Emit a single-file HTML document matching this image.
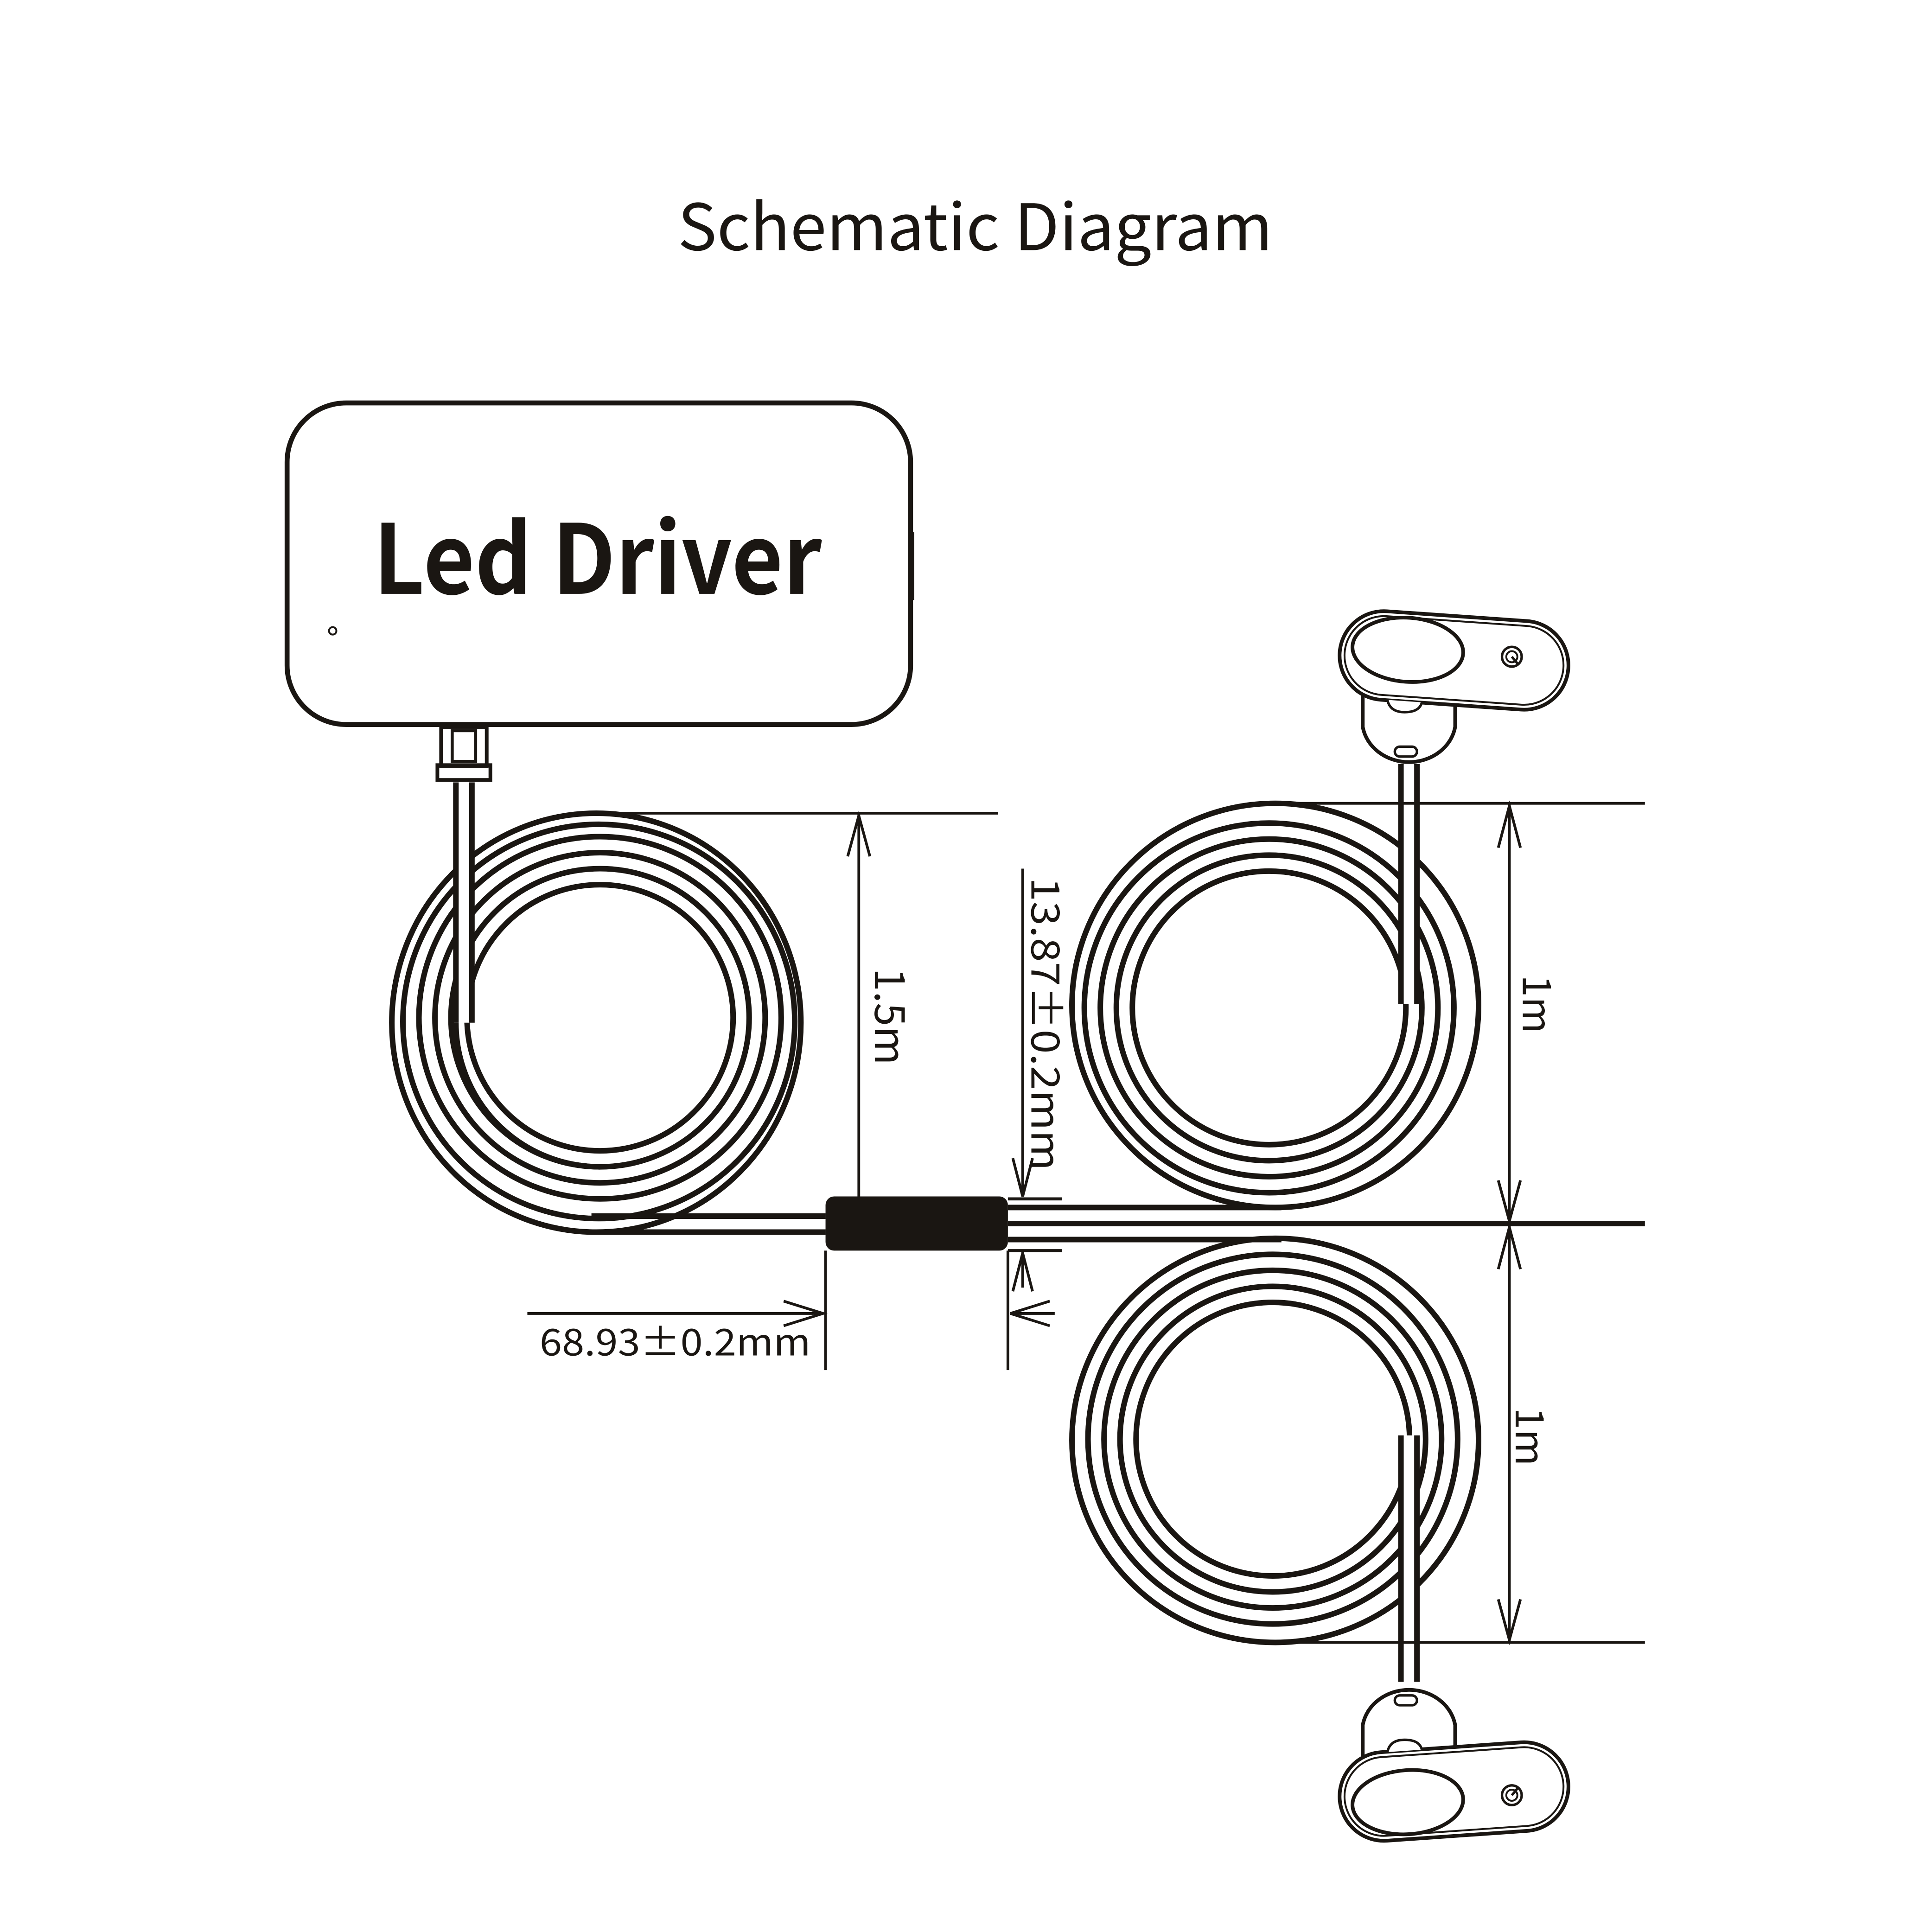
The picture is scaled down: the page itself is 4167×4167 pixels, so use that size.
<!DOCTYPE html>
<html><head><meta charset="utf-8"><style>
html,body{margin:0;padding:0;background:#fff;}
svg{display:block;}
text{font-family:"Liberation Sans","Noto Sans CJK SC",sans-serif;fill:#1a1612;}
</style></head><body>
<svg width="4167" height="4167" viewBox="0 0 1568 1568" xmlns="http://www.w3.org/2000/svg">
<rect width="1568" height="1568" fill="#fff"/>
<text x="550" y="203" font-size="52" textLength="483" lengthAdjust="spacingAndGlyphs" style="font-family:'Noto Sans CJK SC','Liberation Sans',sans-serif">Schematic Diagram</text>

<g fill="none" stroke="#1a1612" stroke-width="4.5">
<!-- Led driver -->
<rect x="233" y="327" width="506" height="261" rx="48" stroke-width="4"/>
<rect x="738" y="432" width="4" height="55" fill="#1a1612" stroke="none"/>
<circle cx="270" cy="512" r="3" stroke-width="1.5"/>
<!-- connector -->
<rect x="358" y="590" width="37" height="32" stroke-width="3"/>
<rect x="355" y="621" width="43" height="12" stroke-width="3"/>
<rect x="367" y="593" width="19" height="25" stroke-width="2.5"/>
<!-- left coil -->
<circle cx="487" cy="826" r="108"/>
<circle cx="487" cy="826" r="121"/>
<circle cx="487" cy="826" r="134"/>
<circle cx="487" cy="826" r="147"/>
<ellipse cx="486" cy="829" rx="159" ry="160"/>
<ellipse cx="484" cy="830" rx="166" ry="170"/>
<path d="M480 987 L670 987 M480 1000 L670 1000"/>
<rect x="371" y="635" width="12" height="195" fill="#fff" stroke="none"/>
<path d="M370 635 L370 830 M383 635 L383 830"/>
<path d="M370 830 A117 117 0 0 0 487 947"/>

<!-- junction -->
<rect x="670" y="971" width="148" height="44" rx="7" fill="#1a1612" stroke="none"/>
<path d="M818 980 L1040 980 M818 993 L1335 993 M818 1006 L1040 1006" stroke-width="4.5"/>
<path d="M818 973 L862 973 M818 1015 L862 1015" stroke-width="2.5"/>

<!-- top right coil -->
<circle cx="1030" cy="818" r="111"/>
<circle cx="1030" cy="818" r="124"/>
<circle cx="1030" cy="818" r="137"/>
<circle cx="1030" cy="818" r="150"/>
<ellipse cx="1035" cy="816" rx="165" ry="164"/>
<rect x="1138" y="620" width="12" height="195" fill="#fff" stroke="none"/>
<path d="M1137 620 L1137 815 M1150 620 L1150 815"/>
<!-- bottom right coil -->
<circle cx="1033" cy="1168" r="111"/>
<circle cx="1033" cy="1168" r="124"/>
<circle cx="1033" cy="1168" r="137"/>
<circle cx="1033" cy="1168" r="150"/>
<ellipse cx="1035" cy="1169" rx="165" ry="164"/>
<rect x="1138" y="1165" width="12" height="200" fill="#fff" stroke="none"/>
<path d="M1137 1165 L1137 1365 M1150 1165 L1150 1365"/>

<!-- dimensions -->
<g stroke-width="2.2">
<path d="M497 660 L810 660 M697 660 L697 971 M688 695 L697 662 L706 695"/>
<path d="M830 705 L830 971 M822 940 L830 971 L838 940 M830 1015 L830 1045 M822 1048 L830 1017 L838 1048"/>
<path d="M670 1015 L670 1112 M818 1015 L818 1112 M428 1066 L668 1066 M636 1056 L668 1066 L636 1076 M820 1066 L852 1056 M820 1066 L852 1076 M820 1066 L856 1066"/>
<path d="M1030 652 L1335 652 M1030 1333 L1335 1333 M1225 652 L1225 1333 M1216 688 L1225 654 L1234 688 M1216 958 L1225 991 L1234 958 M1216 1030 L1225 996 L1234 1030 M1216 1298 L1225 1331 L1234 1298"/>
</g>
</g>

<text x="303" y="482" font-size="78" textLength="364" lengthAdjust="spacingAndGlyphs" style="font-family:'Noto Sans CJK SC','Liberation Sans',sans-serif;font-weight:700">Led Driver</text>
<text transform="translate(710,825) rotate(90)" font-size="34" text-anchor="middle" style="font-family:'Noto Sans CJK SC',sans-serif">1.5m</text>
<text transform="translate(837,712) rotate(90)" font-size="32" textLength="238" lengthAdjust="spacingAndGlyphs" style="font-family:'Noto Sans CJK SC',sans-serif">13.87±0.2mm</text>
<text x="438" y="1100" font-size="30" textLength="220" lengthAdjust="spacingAndGlyphs" style="font-family:'Noto Sans CJK SC',sans-serif">68.93±0.2mm</text>
<text transform="translate(1236,815) rotate(90)" font-size="32" text-anchor="middle" style="font-family:'Noto Sans CJK SC',sans-serif">1m</text>
<text transform="translate(1230,1166) rotate(90)" font-size="32" text-anchor="middle" style="font-family:'Noto Sans CJK SC',sans-serif">1m</text>

<!-- sensors -->
<g id="sensor" fill="#fff" stroke="#1a1612" stroke-width="3">
<path d="M1106 560 L1106 590 A38 34 0 0 0 1181 590 L1181 560 Z"/>
<rect x="1132" y="606" width="18" height="8" rx="4" stroke-width="2"/>
<g transform="rotate(4 1180 537)">
<rect x="1087" y="500" width="186" height="72" rx="36"/>
<rect x="1091" y="504" width="178" height="64" rx="32" stroke-width="1.5"/>
<ellipse cx="1142" cy="530" rx="45" ry="26"/>
</g>
<path d="M1126 568 Q1128 578 1140 578 Q1152 578 1154 570" stroke-width="2"/>
<circle cx="1227" cy="533" r="8" stroke-width="2"/>
<circle cx="1227" cy="533" r="4.5" stroke-width="1.5"/>
<path d="M1227 533 L1232 539" stroke-width="2"/>
</g>
<use href="#sensor" transform="translate(0,1990) scale(1,-1)"/>
</svg>
</body></html>
